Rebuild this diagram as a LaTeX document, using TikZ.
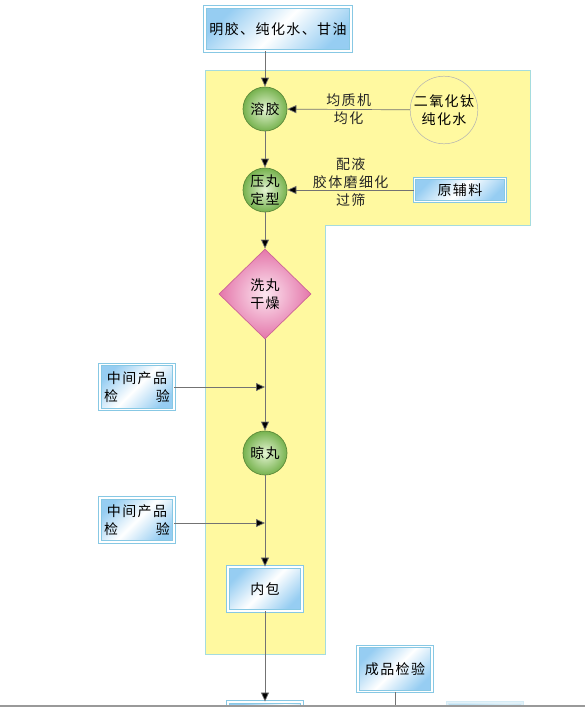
\documentclass[tikz,border=0pt]{standalone}
\usepackage{fontspec}
\setmainfont{Noto Sans CJK SC}[LetterSpace=10]
\usetikzlibrary{
    positioning,
    arrows.meta,
    shapes.geometric
}
\definecolor{paleYellow}{RGB}{255, 249, 160}
\definecolor{paleCyan}{RGB}{165, 220, 222}
\definecolor{boxBlue}{RGB}{150, 205, 242}
\definecolor{boxEdge}{RGB}{135, 200, 228}
\definecolor{ballGreen}{RGB}{118, 178, 78}
\definecolor{ballEdge}{RGB}{92, 138, 58}
\definecolor{ballLight}{RGB}{228, 244, 210}
\definecolor{rosePink}{RGB}{228, 118, 170}
\definecolor{roseEdge}{RGB}{205, 100, 150}
\definecolor{roseLight}{RGB}{252, 230, 240}
\definecolor{lineGray}{RGB}{115, 115, 115}

\tikzset{
    bluebox/.style={rectangle, draw=boxEdge, line width=0.9pt, double=white, double distance=1.4pt,
        top color=boxBlue, bottom color=boxBlue, middle color=white, shading angle=45,
        inner sep=0pt, align=center},
    greenball/.style={circle, draw=ballEdge, line width=0.7pt, minimum size=44pt, inner sep=0pt,
        inner color=ballLight, outer color=ballGreen, align=center},
    pinkdiamond/.style={diamond, draw=roseEdge, line width=0.7pt, minimum width=92pt, minimum height=90pt,
        inner sep=0pt, inner color=roseLight, outer color=rosePink, align=center},
    flow/.style={draw=lineGray, line width=0.7pt, -{Triangle[length=9pt, width=8pt, fill=black]}},
    caption/.style={align=center, text=black!85}
}

\begin{document}
\begin{tikzpicture}[x=1pt, y=-1pt, font=\fontsize{14}{18}\selectfont]
        \clip (0,0) rectangle (585,707);

        % yellow work area
        \filldraw[fill=paleYellow, draw=paleCyan, line width=1pt]
            (205,70) -- (530,70) -- (530,225) -- (325,225) -- (325,654) -- (205,654) -- cycle;

        % main column
        \node[bluebox, minimum width=146pt, minimum height=44pt] (gelatin) at (278,29) {明胶、纯化水、甘油};
        \node[greenball] (melt) at (265,109) {溶胶};
        \node[greenball] (press) at (265,190) {压丸\\定型};
        \node[pinkdiamond] (wash) at (265,294) {洗丸\\干燥};
        \node[greenball] (dry) at (265,453) {晾丸};
        \node[bluebox, minimum width=74pt, minimum height=44pt] (pack) at (265,589) {内包};
        \node[bluebox, minimum width=74pt, minimum height=44pt] (outpack) at (265,724) {};

        % side inputs
        \node[circle, draw=black!30, line width=0.5pt, minimum size=52pt, inner sep=0pt, align=center] (tio2) at (444,110) {二氧化钛\\纯化水};
        \node[bluebox, minimum width=91pt, minimum height=23pt] (raw) at (460,190) {原辅料};
        \node[bluebox, minimum width=74pt, minimum height=45pt] (check1) at (137,387) {中间产品\\\hbox to 66pt{检\hfill 验}};
        \node[bluebox, minimum width=74pt, minimum height=44pt] (check2) at (137,520) {中间产品\\\hbox to 66pt{检\hfill 验}};
        \node[bluebox, minimum width=74pt, minimum height=45pt] (final) at (395,669) {成品检验};
        \node[bluebox, minimum width=74pt, minimum height=44pt, opacity=0.35] (store) at (485,725) {};

        \coordinate (join1) at (265,387);
        \coordinate (join2) at (265,523);
        \coordinate (finalEnd) at (395,707);

        % connectors
        \draw[flow] (gelatin.south -| melt) -- (melt);
        \draw[flow] (melt) -- (press);
        \draw[flow] (press) -- (wash);
        \draw[flow] (wash) -- (dry);
        \draw[flow] (dry) -- (pack);
        \draw[flow] (pack) -- (outpack);
        \draw[flow] (tio2) -- node[caption] {均质机\\均化} (melt);
        \draw[flow] (raw) -- node[caption, yshift=8pt] {配液\\胶体磨细化\\过筛} (press);
        \draw[flow] (check1.east |- join1) -- (join1);
        \draw[flow] (check2.east |- join2) -- (join2);
        \draw[draw=lineGray, line width=0.7pt] (final) -- (finalEnd);

        \draw[black!40, line width=1.2pt] (0,706) -- (585,706);
    \end{tikzpicture}
\end{document}
